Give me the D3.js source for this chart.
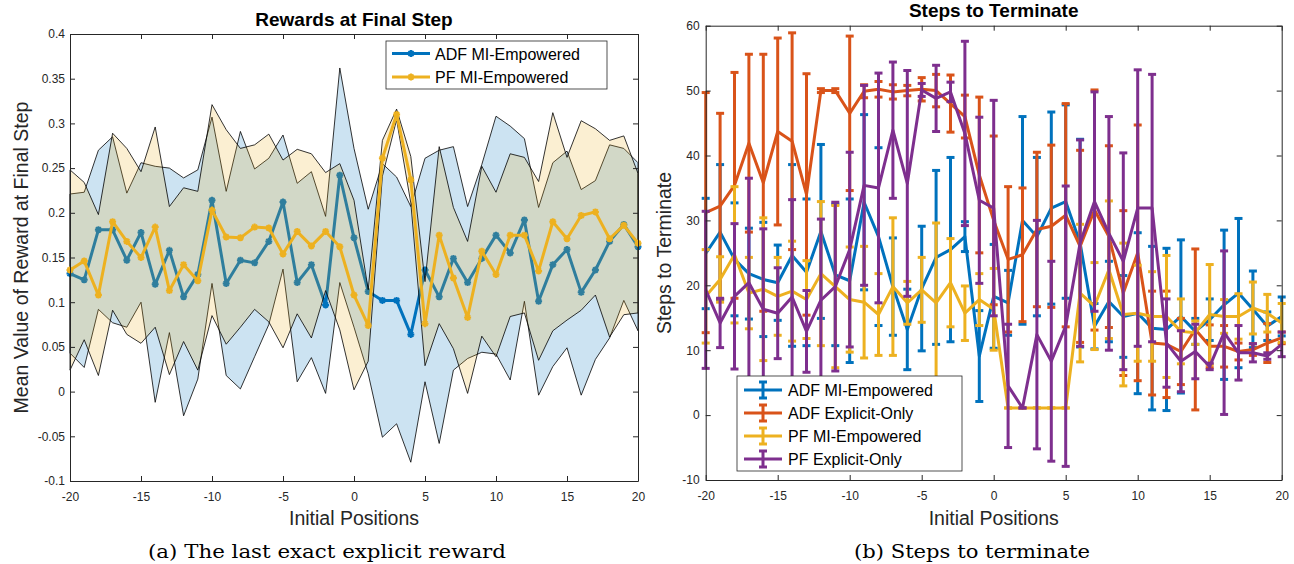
<!DOCTYPE html>
<html>
<head>
<meta charset="utf-8">
<script src="https://cdn.jsdelivr.net/npm/d3@7"></script>
<style>
	body { margin: 0; background: #fff; }
	text { font-family: "Liberation Sans", Arial, sans-serif; fill: #262626; }
	.caption { font-family: "DejaVu Serif", "Liberation Serif", serif; fill: #000; }
</style>
</head>
<body>
<div id="viz"></div>
<script>

/********
 * DATA *
 ********/

// initial positions -20 .. 20
var POSITIONS = d3.range(-20, 21);

// (a) reward at final step, mean and std
var ADF_MEAN = [0.132,0.125,0.181,0.181,0.147,0.178,0.120,0.158,0.106,0.131,
	0.214,0.121,0.147,0.144,0.168,0.212,0.122,0.142,0.097,0.242,
	0.172,0.112,0.102,0.102,0.064,0.136,0.106,0.149,0.122,0.149,
	0.175,0.155,0.192,0.101,0.142,0.159,0.111,0.136,0.168,0.187,0.162];
var ADF_STD = [0.089,0.098,0.089,0.104,0.075,0.078,0.132,0.092,0.133,0.117,
	0.093,0.103,0.144,0.105,0.093,0.075,0.111,0.104,0.099,0.120,
	0.100,0.092,0.153,0.138,0.143,0.125,0.164,0.125,0.085,0.105,
	0.133,0.142,0.091,0.105,0.114,0.110,0.115,0.100,0.108,0.085,0.094];
var PF_MEAN = [0.136,0.146,0.108,0.190,0.168,0.150,0.184,0.113,0.142,0.124,
	0.203,0.173,0.172,0.184,0.183,0.154,0.179,0.163,0.179,0.162,
	0.108,0.074,0.261,0.310,0.237,0.076,0.175,0.127,0.083,0.157,
	0.131,0.175,0.175,0.135,0.190,0.171,0.197,0.201,0.171,0.186,0.166];
var PF_STD = [0.112,0.088,0.090,0.099,0.104,0.096,0.112,0.094,0.086,0.100,
	0.118,0.120,0.100,0.092,0.105,0.105,0.092,0.103,0.066,0.093,
	0.106,0.040,0.020,0.006,0.026,0.047,0.099,0.079,0.085,0.095,
	0.092,0.091,0.087,0.100,0.122,0.091,0.106,0.093,0.110,0.100,0.078];

// (b) steps to terminate, mean and error
var STEPS_ADF_MI = [24.9,28.2,24.0,21.8,20.9,20.4,24.6,22.0,28.3,21.6,
	20.7,32.8,27.5,19.8,13.2,19.5,24.3,25.5,27.5,9.1,
	18.3,17.3,30.0,27.5,31.9,32.9,26.5,13.7,17.5,15.2,
	15.7,13.4,13.2,15.2,12.9,14.7,17.0,18.8,16.3,13.7,15.2];
var STEPS_ADF_MI_ERR = [8.5,10.4,8.7,7,8.8,5.8,14,11.3,13.4,10.9,
	12.6,13.5,13.7,7.5,6.2,9.6,13.4,14.2,2.3,7,
	8,5,16,12.2,14.8,14.9,16,3.5,6.2,6.3,
	12.4,12.6,12.5,11.8,2,3.2,11.5,11.5,5.9,2.2,3];
var STEPS_ADF_EX = [31.2,32.2,35.4,41.9,35.8,43.7,42.2,34.0,50.0,50.0,
	46.5,49.9,50.2,49.8,50.0,50.2,50.0,48.0,46.0,37.0,
	30.0,24.0,24.7,28.6,29.1,30.8,26.0,31.6,27.5,18.8,
	25.0,11.1,10.9,9.8,13.2,10.6,10.6,9.8,10.1,11.1,11.9];
var STEPS_ADF_EX_ERR = [18.5,14.3,17.4,13.7,19.8,14.4,16.7,18.6,0.3,0.3,
	11.9,1,1.2,1.1,0.8,1.8,2.5,4.4,3.3,12,
	13,11.2,10.3,11.9,12.5,17.2,14.8,18.5,14,12.7,
	19.7,8,8.2,5.1,12.4,3.3,3.2,1.3,0.9,3,0.9];
var STEPS_PF_MI = [18.3,20.9,24.7,18.8,19.4,18.3,19.1,17.8,21.8,19.8,
	17.8,17.4,15.5,19.8,17.3,19.3,17.3,20.4,15.7,17.8,
	16.3,1.1,1.1,1.1,1.1,1.1,18.8,16.8,22.4,15.5,
	15.7,15.2,15.2,12.9,12.7,15.5,15.2,15.2,16.5,15.7,14.2];
var STEPS_PF_MI_ERR = [7.2,3.5,10.5,5.5,11,6,7.7,6,11.1,12.5,
	8.1,8.6,6.3,10.6,3.3,5,12.3,6.8,4.2,4,
	6.3,0,0,0,0,0,10.6,6.7,10.6,11,
	7.4,6.9,9.4,5,1.8,7.7,2.6,3.5,4,2.9,3];
var STEPS_PF_EX = [19.3,14.2,18.3,20.4,16.3,15.7,18.2,12.9,17.7,19.8,
	25.5,35.4,35.0,43.9,35.7,50.1,48.8,49.8,43.4,33.1,
	31.9,4.5,1.1,12.4,8.3,13.7,26.5,32.9,28.0,23.7,
	31.9,31.9,11.1,8.3,9.8,7.5,12.7,9.6,9.6,9.1,10.9];
var STEPS_PF_EX_ERR = [12.1,3.8,11.2,16.1,12.4,7,15,6.3,12.5,13,
	15,15.4,17.7,10.5,17.4,1,5.1,1.5,14.2,12.8,
	16.6,9.5,0,17.6,15.4,21.6,15.9,16.9,18,16.7,
	21.3,20.6,6.8,4.7,4.2,0.5,12.6,4.2,1.4,0.5,1.9];

var X_TICKS = [-20,-15,-10,-5,0,5,10,15,20];
var REWARD_TICKS = [-0.1,-0.05,0,0.05,0.1,0.15,0.2,0.25,0.3,0.35,0.4];
var STEP_TICKS = [-10,0,10,20,30,40,50,60];

var BLUE = "#0072BD", ORANGE = "#D95319", YELLOW = "#EDB120", PURPLE = "#7E2F8E";
var AXIS_COLOR = "#262626";
var STAR = "M-3.5,0H3.5M0,-3.5V3.5M-2.5,-2.5L2.5,2.5M-2.5,2.5L2.5,-2.5";

var SVG = d3.select("#viz").append("svg")
	.attr("width", 1294)
	.attr("height", 564);

// axes box with inward ticks on all four sides (matlab style)
function drawFrame(x, y, xTicks, yTicks, yFmt, yPad) {
	var r = x.range(), t = y.range();
	var g = SVG.append("g");
	g.append("g").attr("transform", "translate(0," + t[0] + ")")
		.call(d3.axisBottom(x).tickValues(xTicks).tickSizeInner(-5).tickSizeOuter(0)
			.tickPadding(11).tickFormat(function(d){ return String(d); }));
	g.append("g").attr("transform", "translate(0," + t[1] + ")")
		.call(d3.axisTop(x).tickValues(xTicks).tickSizeInner(-5).tickSizeOuter(0).tickFormat(""));
	g.append("g").attr("transform", "translate(" + r[0] + ",0)")
		.call(d3.axisLeft(y).tickValues(yTicks).tickSizeInner(-5).tickSizeOuter(0)
			.tickPadding(yPad).tickFormat(yFmt));
	g.append("g").attr("transform", "translate(" + r[1] + ",0)")
		.call(d3.axisRight(y).tickValues(yTicks).tickSizeInner(-5).tickSizeOuter(0).tickFormat(""));
	g.selectAll(".domain, .tick line").attr("stroke", AXIS_COLOR).attr("stroke-width", 1);
	g.selectAll(".tick text").attr("fill", AXIS_COLOR).style("font-size", "12px")
		.style("font-family", "'Liberation Sans', Arial, sans-serif");
}

function label(txt, px, py, size, weight, rotate) {
	SVG.append("text")
		.attr("transform", "translate(" + px + "," + py + ")" + (rotate ? " rotate(-90)" : ""))
		.attr("text-anchor", "middle")
		.style("font-size", size + "px")
		.style("font-weight", weight || "normal")
		.style("fill", weight ? "#000" : AXIS_COLOR)
		.text(txt);
}


/*****************************
 * (a) REWARDS AT FINAL STEP *
 *****************************/

var xA = d3.scaleLinear().domain([-20, 20]).range([70, 638]);
var yA = d3.scaleLinear().domain([-0.1, 0.4]).range([481, 34]);

function rows(means, stds) {
	return POSITIONS.map(function(p, i){ return { pos: p, mean: means[i], std: stds[i] }; });
}
var adfRows = rows(ADF_MEAN, ADF_STD);
var pfRows = rows(PF_MEAN, PF_STD);

var band = d3.area()
	.x(function(d){ return xA(d.pos); })
	.y0(function(d){ return yA(d.mean - d.std); })
	.y1(function(d){ return yA(d.mean + d.std); });
var meanLine = d3.line()
	.x(function(d){ return xA(d.pos); })
	.y(function(d){ return yA(d.mean); });

var plotA = SVG.append("g");

function drawMean(data, color) {
	plotA.append("path").datum(data)
		.attr("d", meanLine)
		.attr("fill", "none")
		.attr("stroke", color)
		.attr("stroke-width", 3)
		.attr("stroke-linejoin", "round");
	plotA.selectAll(null).data(data).enter()
		.append("path")
		.attr("transform", function(d){ return "translate(" + xA(d.pos) + "," + yA(d.mean) + ")"; })
		.attr("d", STAR)
		.attr("stroke", color)
		.attr("stroke-width", 2);
}

// order: blue band, blue line, yellow band, yellow line
plotA.append("path").datum(adfRows).attr("d", band)
	.attr("fill", BLUE).attr("fill-opacity", 0.2)
	.attr("stroke", "#000").attr("stroke-width", 0.8);
drawMean(adfRows, BLUE);
plotA.append("path").datum(pfRows).attr("d", band)
	.attr("fill", YELLOW).attr("fill-opacity", 0.2)
	.attr("stroke", "#000").attr("stroke-width", 0.8);
drawMean(pfRows, YELLOW);

drawFrame(xA, yA, X_TICKS, REWARD_TICKS, function(d){ return String(+d.toFixed(2)); }, 5);

// legend
var legA = SVG.append("g");
legA.append("rect").attr("x", 386).attr("y", 41).attr("width", 221).attr("height", 48)
	.attr("fill", "#fff").attr("stroke", AXIS_COLOR).attr("stroke-width", 0.8);
[["ADF MI-Empowered", BLUE], ["PF MI-Empowered", YELLOW]].forEach(function(e, i){
	var ly = 53.5 + i * 23.5;
	legA.append("line").attr("x1", 392).attr("x2", 430).attr("y1", ly).attr("y2", ly)
		.attr("stroke", e[1]).attr("stroke-width", 3);
	legA.append("path").attr("transform", "translate(411," + ly + ")").attr("d", STAR)
		.attr("stroke", e[1]).attr("stroke-width", 2);
	legA.append("text").attr("x", 435).attr("y", ly + 6).style("font-size", "16px")
		.style("fill", "#000").text(e[0]);
});

label("Rewards at Final Step", 354, 26, 19, "bold");
label("Initial Positions", 354, 525, 19.5);
label("Mean Value of Reward at Final Step", 28, 257.5, 19.5, null, true);


/**************************
 * (b) STEPS TO TERMINATE *
 **************************/

var xB = d3.scaleLinear().domain([-20, 20]).range([705.7, 1281.7]);
var yB = d3.scaleLinear().domain([-10, 60]).range([480, 25.7]);

var STEP_SERIES = [
	{ name: "ADF MI-Empowered", color: BLUE, mean: STEPS_ADF_MI, err: STEPS_ADF_MI_ERR },
	{ name: "ADF Explicit-Only", color: ORANGE, mean: STEPS_ADF_EX, err: STEPS_ADF_EX_ERR },
	{ name: "PF MI-Empowered", color: YELLOW, mean: STEPS_PF_MI, err: STEPS_PF_MI_ERR },
	{ name: "PF Explicit-Only", color: PURPLE, mean: STEPS_PF_EX, err: STEPS_PF_EX_ERR }
];

var plotB = SVG.append("g");
var stepLine = d3.line()
	.x(function(d){ return xB(d.pos); })
	.y(function(d){ return yB(d.mean); });

STEP_SERIES.forEach(function(s){
	var data = POSITIONS.map(function(p, i){ return { pos: p, mean: s.mean[i], err: s.err[i] }; });
	var g = plotB.append("g").attr("stroke", s.color).attr("stroke-width", 3).attr("fill", "none");
	var bars = g.selectAll("g").data(data).enter().append("g")
		.attr("transform", function(d){ return "translate(" + xB(d.pos) + ",0)"; });
	bars.append("line")
		.attr("y1", function(d){ return yB(d.mean - d.err); })
		.attr("y2", function(d){ return yB(d.mean + d.err); });
	bars.append("line").attr("x1", -4).attr("x2", 4)
		.attr("y1", function(d){ return yB(d.mean + d.err); })
		.attr("y2", function(d){ return yB(d.mean + d.err); });
	bars.append("line").attr("x1", -4).attr("x2", 4)
		.attr("y1", function(d){ return yB(d.mean - d.err); })
		.attr("y2", function(d){ return yB(d.mean - d.err); });
	g.append("path").datum(data).attr("d", stepLine).attr("stroke-linejoin", "round");
});

drawFrame(xB, yB, X_TICKS, STEP_TICKS, function(d){ return String(d); }, 6);

// legend
var legB = SVG.append("g");
legB.append("rect").attr("x", 737).attr("y", 376).attr("width", 225).attr("height", 95)
	.attr("fill", "#fff").attr("stroke", AXIS_COLOR).attr("stroke-width", 0.8);
STEP_SERIES.forEach(function(s, i){
	var ly = 390 + i * 23;
	var g = legB.append("g").attr("stroke", s.color).attr("stroke-width", 3);
	g.append("line").attr("x1", 744).attr("x2", 782).attr("y1", ly).attr("y2", ly);
	g.append("line").attr("x1", 763).attr("x2", 763).attr("y1", ly - 8).attr("y2", ly + 8);
	g.append("line").attr("x1", 759).attr("x2", 767).attr("y1", ly - 8).attr("y2", ly - 8);
	g.append("line").attr("x1", 759).attr("x2", 767).attr("y1", ly + 8).attr("y2", ly + 8);
	legB.append("text").attr("x", 788).attr("y", ly + 6).style("font-size", "16px")
		.style("fill", "#000").text(s.name);
});

label("Steps to Terminate", 993.7, 17, 19, "bold");
label("Initial Positions", 993.7, 525, 19.5);
label("Steps to Terminate", 671, 253, 19.5, null, true);


/************
 * CAPTIONS *
 ************/

SVG.append("text").attr("class", "caption").attr("x", 327).attr("y", 558)
	.attr("text-anchor", "middle").attr("textLength", 358).attr("lengthAdjust", "spacingAndGlyphs")
	.style("font-size", "19px").text("(a) The last exact explicit reward");
SVG.append("text").attr("class", "caption").attr("x", 972).attr("y", 558)
	.attr("text-anchor", "middle").attr("textLength", 236).attr("lengthAdjust", "spacingAndGlyphs")
	.style("font-size", "19px").text("(b) Steps to terminate");

</script>
</body>
</html>
